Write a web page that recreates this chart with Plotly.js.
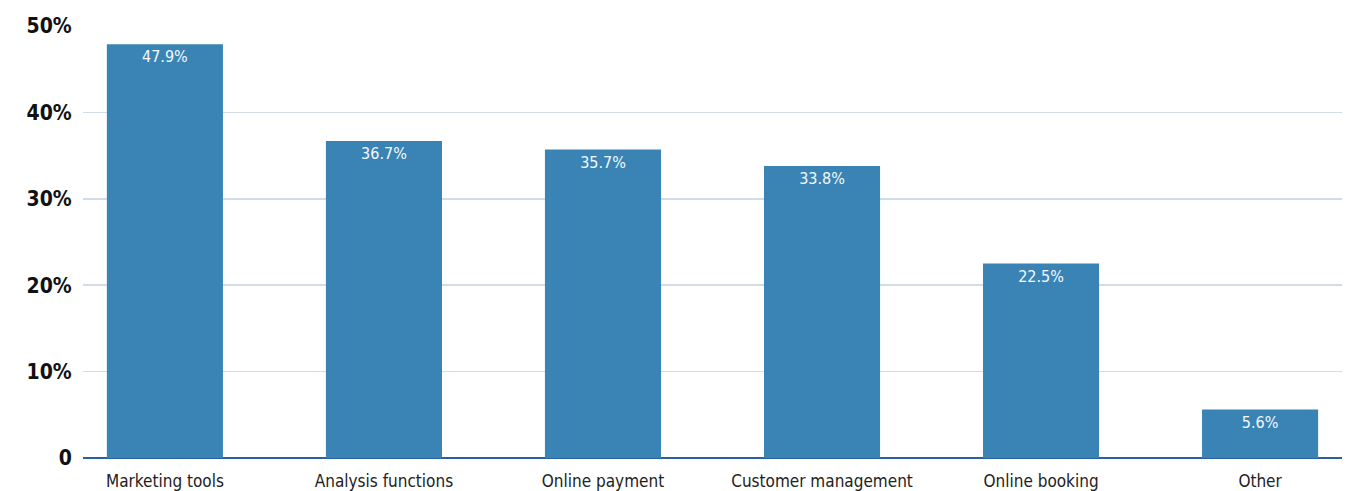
<!DOCTYPE html>
<html>
<head>
<meta charset="utf-8">
<script src="https://cdn.plot.ly/plotly-3.0.1.min.js"></script>
<style>html,body{margin:0;padding:0;background:#fff;}#chart{width:1358px;height:491px;}</style>
</head>
<body>
<div id="chart"></div>
<script>
const categories = ["Marketing tools", "Analysis functions", "Online payment", "Customer management", "Online booking", "Other"];
const values = [47.9, 36.7, 35.7, 33.8, 22.5, 5.6];
const yTickVals = [0, 10, 20, 30, 40, 50];
const yTickText = ["0", "10%", "20%", "30%", "40%", "50%"];

const FONT = "DejaVu Sans Condensed, Liberation Sans Narrow, sans-serif";

const trace = {
  type: "bar",
  x: categories,
  y: values,
  width: 0.53,
  marker: {color: "#3a84b5"},
  text: values.map(v => v.toFixed(1) + "%"),
  textposition: "inside",
  insidetextanchor: "end",
  textangle: 0,
  textfont: {family: FONT, size: 16, color: "#f4f8fc"},
  cliponaxis: false,
  hoverinfo: "none"
};

const layout = {
  width: 1358,
  height: 491,
  margin: {l: 83, r: 16, t: 26, b: 33},
  paper_bgcolor: "#ffffff",
  plot_bgcolor: "#ffffff",
  showlegend: false,
  xaxis: {
    type: "category",
    range: [-0.374, 5.374],
    showgrid: false,
    showline: false,
    zeroline: false,
    ticks: "outside",
    ticklen: 8,
    tickcolor: "rgba(0,0,0,0)",
    tickfont: {family: FONT, size: 17, color: "#222222"}
  },
  yaxis: {
    range: [0, 50],
    tickvals: yTickVals,
    ticktext: yTickText,
    showgrid: true,
    gridcolor: "#cfdde8",
    gridwidth: 1.5,
    zeroline: true,
    zerolinecolor: "#2a62a0",
    zerolinewidth: 2,
    showline: false,
    ticks: "outside",
    ticklen: 6,
    tickcolor: "rgba(0,0,0,0)",
    tickfont: {family: FONT, size: 21, color: "#111111", weight: "bold"}
  }
};

Plotly.newPlot("chart", [trace], layout, {displayModeBar: false, staticPlot: true});
</script>
</body>
</html>
